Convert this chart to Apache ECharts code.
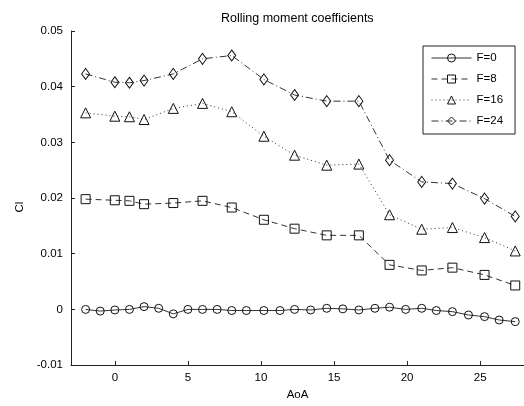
<!DOCTYPE html>
<html>
<head>
<meta charset="utf-8">
<script src="https://cdn.jsdelivr.net/npm/echarts@6/dist/echarts.min.js"></script>
<style>
  html, body { margin: 0; padding: 0; background: #fff; }
  #chart { width: 524px; height: 406px; }
</style>
</head>
<body>
<div id="chart"></div>
<script>
// Angle of attack samples (deg)
const aoaFine = [-2, -1, 0, 1, 2, 3, 4, 5, 6, 7, 8, 9, 10.2, 11.3, 12.3, 13.4, 14.5, 15.6, 16.7, 17.8, 18.8, 19.9, 21, 22, 23.1, 24.2, 25.3, 26.3, 27.4];
const aoaCoarse = [-2, 0, 1, 2, 4, 6, 8, 10.2, 12.3, 14.5, 16.7, 18.8, 21, 23.1, 25.3, 27.4];

// Rolling moment coefficient Cl per flap setting
const clF0 = [0, -0.0003, -0.0001, 0, 0.0005, 0.0002, -0.0008, 0, 0, 0, -0.0002, -0.0002, -0.0002, -0.0002, 0, -0.0001, 0.0002, 0.0001, -0.0001, 0.0002, 0.0004, 0, 0.0002, -0.0002, -0.0004, -0.001, -0.0013, -0.0019, -0.0022];
const clF8 = [0.0198, 0.0196, 0.0195, 0.0189, 0.0191, 0.0195, 0.0183, 0.0161, 0.0145, 0.0133, 0.0133, 0.0080, 0.0070, 0.0075, 0.0062, 0.0043];
const clF16 = [0.0353, 0.0347, 0.0346, 0.0341, 0.0361, 0.0370, 0.0355, 0.0311, 0.0277, 0.0259, 0.0261, 0.0170, 0.0144, 0.0147, 0.0129, 0.0105];
const clF24 = [0.0423, 0.0408, 0.0407, 0.0411, 0.0423, 0.0450, 0.0456, 0.0413, 0.0385, 0.0374, 0.0374, 0.0268, 0.0229, 0.0226, 0.0199, 0.0167];

const seriesNames = ['F=0', 'F=8', 'F=16', 'F=24'];
const xTicks = [0, 5, 10, 15, 20, 25];

const FONT = '"Liberation Sans", Arial, sans-serif';
const LINE = '#333';
const MARK = '#111';

function pairs(xs, ys) { return xs.map((x, i) => [x, ys[i]]); }

function makeSeries(name, xs, ys, symbol, size, dash) {
  return {
    name: name,
    type: 'line',
    data: pairs(xs, ys),
    symbol: symbol,
    symbolSize: size,
    showAllSymbol: true,
    lineStyle: { color: LINE, width: 1, type: dash },
    itemStyle: { color: 'rgba(255,255,255,0)', borderColor: MARK, borderWidth: 1 },
    emphasis: { disabled: true },
    animation: false,
    z: 3
  };
}

const chart = echarts.init(document.getElementById('chart'), null, { renderer: 'canvas' });
chart.setOption({
  backgroundColor: '#fff',
  animation: false,
  title: {
    text: 'Rolling moment coefficients',
    left: 216,
    top: 7,
    textStyle: { fontFamily: FONT, fontSize: 12.5, fontWeight: 'normal', color: '#000' }
  },
  legend: {
    orient: 'vertical',
    left: 423,
    top: 46,
    data: seriesNames,
    backgroundColor: '#fff',
    borderColor: '#222',
    borderWidth: 1,
    borderRadius: 0,
    padding: [6, 12, 7, 8],
    itemWidth: 40,
    itemHeight: 10,
    itemGap: 9,
    itemStyle: { borderWidth: 1 },
    lineStyle: { width: 1 },
    textStyle: { fontFamily: FONT, fontSize: 11.5, color: '#000' }
  },
  grid: { left: 71, top: 31, width: 454, height: 338.5, containLabel: false },
  xAxis: {
    type: 'value',
    min: -3,
    max: 28,
    name: 'AoA',
    nameLocation: 'middle',
    nameGap: 17,
    nameTextStyle: { fontFamily: FONT, fontSize: 11.5, color: '#000' },
    axisLine: { onZero: false, lineStyle: { color: '#222', width: 1 } },
    axisTick: { inside: true, length: 4, customValues: xTicks, lineStyle: { color: '#222' } },
    axisLabel: { customValues: xTicks, fontFamily: FONT, fontSize: 11.5, color: '#000', margin: 7 },
    splitLine: { show: false }
  },
  yAxis: {
    type: 'value',
    min: -0.01,
    max: 0.05,
    interval: 0.01,
    name: 'Cl',
    nameLocation: 'middle',
    nameGap: 45,
    nameRotate: 90,
    nameTextStyle: { fontFamily: FONT, fontSize: 11.5, color: '#000', padding: [0, 0, 0, -18] },
    axisLine: { show: true, onZero: false, lineStyle: { color: '#222', width: 1 } },
    axisTick: { show: true, inside: true, length: 4, lineStyle: { color: '#222' } },
    axisLabel: {
      fontFamily: FONT, fontSize: 11.5, color: '#000', margin: 8,
      formatter: v => String(+v.toFixed(2))
    },
    splitLine: { show: false }
  },
  series: [
    makeSeries('F=0', aoaFine, clF0, 'circle', 8, 'solid'),
    makeSeries('F=8', aoaCoarse, clF8, 'rect', 9, [6, 4]),
    makeSeries('F=16', aoaCoarse, clF16, 'triangle', 10, [1, 3]),
    makeSeries('F=24', aoaCoarse, clF24, 'diamond', [8, 11], [7, 3, 1, 3])
  ]
});
</script>
</body>
</html>
